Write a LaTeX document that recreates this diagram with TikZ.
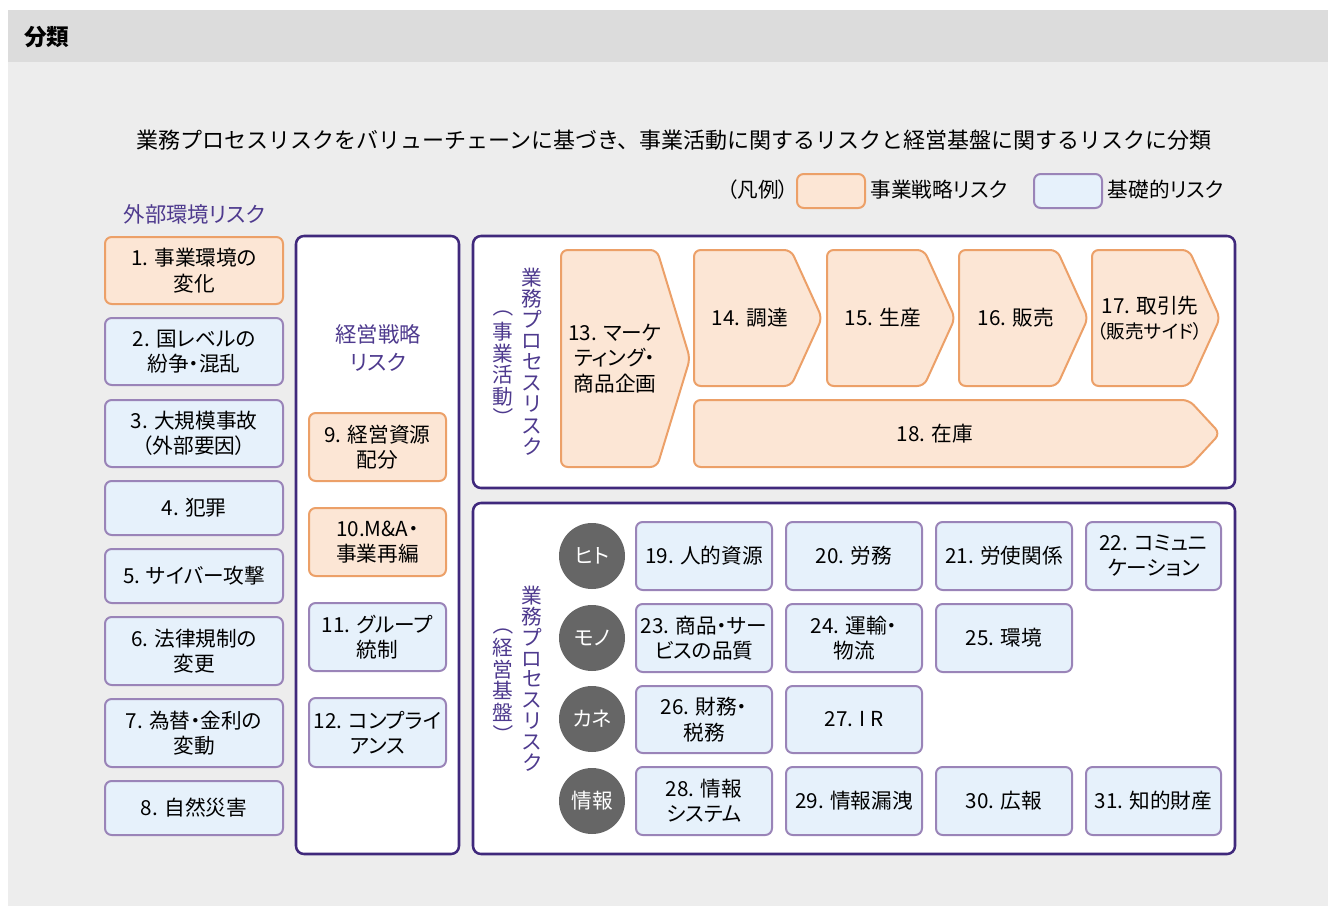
\documentclass[tikz,border=0pt]{standalone}
\usepackage{fontspec}
\setmainfont{Noto Sans CJK JP}[RawFeature=+palt]
\newfontfamily\plainjp{Noto Sans CJK JP}
\definecolor{ob}{HTML}{ECA068}
\definecolor{of}{HTML}{FCE6D5}
\definecolor{bb}{HTML}{9A84B8}
\definecolor{bf}{HTML}{E6F1FB}
\definecolor{dp}{HTML}{40297C}
\definecolor{pt}{HTML}{4E3A8E}
\definecolor{cg}{HTML}{666666}
\definecolor{hdr}{HTML}{DCDCDC}
\definecolor{bg}{HTML}{EDEDED}
\newcommand\fs{\fontsize{15.5pt}{19pt}\selectfont}
\newcommand\bx[7]{\node[#2, minimum width={(#5-#3)*0.75pt}, minimum height={(#6-#4)*0.75pt}] (#1) at ({(#3+#5)/2},{(#4+#6)/2}) {#7};}
\newcommand\chev[8]{%
 \draw[chevst] (#2,#3) -- (#4-#6,#3) -- (#4,{(#3+#5)/2}) -- (#4-#6,#5) -- (#2,#5) -- cycle;
 \node[base] (#1) at (#7,{(#3+#5)/2}) {#8};}
\tikzset{
 base/.style={font=\fs, align=center, text=black, inner sep=0pt},
 orbox/.style={base, draw=ob, fill=of, line width=1.5pt, rounded corners=5pt},
 blbox/.style={base, draw=bb, fill=bf, line width=1.5pt, rounded corners=5pt},
 cont/.style={draw=dp, fill=white, line width=1.9pt, rounded corners=6pt, inner sep=0pt},
 chevst/.style={draw=ob, fill=of, line width=1.5pt, rounded corners=5pt},
 ptxt/.style={base, text=pt},
 vtxt/.style={font=\fs, text=pt, inner sep=0pt, text height=13.6pt, text depth=1.9pt},
 vpar/.style={font=\fs, text=pt, inner sep=0pt, rotate=-90},
 circ/.style={circle, fill=cg, text=white, minimum size=49.5pt, inner sep=0pt, font=\fs},
}
\begin{document}
\begin{tikzpicture}[x=0.75pt,y=-0.75pt]
\useasboundingbox (0,0) rectangle (1328,906);
\fill[white] (0,0) rectangle (1328,906);
\fill[hdr] (8,10) rectangle (1328,62);
\fill[bg] (8,62) rectangle (1328,906);
\node[anchor=west, inner sep=0pt, font=\fontsize{17pt}{20pt}\selectfont\bfseries] (title) at (24,37) {分類};
\node[base, font=\plainjp\fontsize{16.5pt}{20pt}\selectfont] (sub) at (674,140) {業務プロセスリスクをバリューチェーンに基づき、事業活動に関するリスクと経営基盤に関するリスクに分類};
% legend
\node[base] (lg) at (758,190) {（凡例）};
\bx{lgo}{orbox}{797}{174}{865}{208}{}
\node[base] (lgot) at (939,190) {事業戦略リスク};
\bx{lgb}{blbox}{1034}{174}{1102}{208}{}
\node[base] (lgbt) at (1166,190) {基礎的リスク};
% external
\node[ptxt, font=\fontsize{16pt}{19pt}\selectfont] (ext) at (194.5,214) {外部環境リスク};
\bx{r1}{orbox}{105}{237}{283}{304}{1. 事業環境の\\変化}
\bx{r2}{blbox}{105}{318}{283}{385}{2. 国レベルの\\紛争・混乱}
\bx{r3}{blbox}{105}{400}{283}{467}{3. 大規模事故\\（外部要因）}
\bx{r4}{blbox}{105}{481}{283}{535}{4. 犯罪}
\bx{r5}{blbox}{105}{549}{283}{603}{5. サイバー攻撃}
\bx{r6}{blbox}{105}{617}{283}{685}{6. 法律規制の\\変更}
\bx{r7}{blbox}{105}{699}{283}{767}{7. 為替・金利の\\変動}
\bx{r8}{blbox}{105}{781}{283}{835}{8. 自然災害}
% strategy
\bx{mid}{cont}{296}{236}{459}{854}{}
\node[ptxt, font=\fontsize{16pt}{21pt}\selectfont] (midt) at (378,348) {経営戦略\\リスク};
\bx{r9}{orbox}{309}{413}{446}{481}{9. 経営資源\\配分}
\bx{r10}{orbox}{309}{508}{446}{576}{10.M\&A・\\事業再編}
\bx{r11}{blbox}{309}{603}{446}{671}{11. グループ\\統制}
\bx{r12}{blbox}{309}{698}{446}{767}{12. コンプライ\\アンス}
% top container
\bx{top}{cont}{473}{236}{1235}{488}{}
\foreach \c [count=\i] in {業,務,プ,ロ,セ,ス,リ,ス,ク}
  \node[vtxt] (ta\i) at (532,{277.5+21.1*(\i-1)}) {\c};
\node[vpar] (tp1) at (503,311) {（};
\foreach \c/\yy [count=\i] in {事/332,業/353.5,活/375,動/396.5}
  \node[vtxt] (tb\i) at (503,\yy) {\c};
\node[vpar] (tp2) at (503,413) {）};
\chev{r13}{561}{250}{690}{467}{33}{615}{13. マーケ\\ティング・\\商品企画}
\chev{r14}{694}{250}{822}{386}{31}{750}{14. 調達}
\chev{r15}{827}{250}{955}{386}{31}{883}{15. 生産}
\chev{r16}{959}{250}{1088}{386}{31}{1016}{16. 販売}
\chev{r17}{1092}{250}{1220}{386}{31}{1150}{17. 取引先\\{\fontsize{14pt}{16pt}\selectfont（販売サイド）}}
\chev{r18}{694}{400}{1220}{467}{31}{935}{18. 在庫}
% bottom container
\bx{bot}{cont}{473}{503}{1235}{854}{}
\foreach \c [count=\i] in {業,務,プ,ロ,セ,ス,リ,ス,ク}
  \node[vtxt] (ba\i) at (532,{595.5+20.9*(\i-1)}) {\c};
\node[vpar] (bp1) at (503,629) {（};
\foreach \c/\yy [count=\i] in {経/648,営/669.5,基/691,盤/712.5}
  \node[vtxt] (bb\i) at (503,\yy) {\c};
\node[vpar] (bp2) at (503,730) {）};
\node[circ] (c1) at (592,556) {ヒト};
\node[circ] (c2) at (592,638) {モノ};
\node[circ] (c3) at (592,719) {カネ};
\node[circ] (c4) at (592,801) {情報};
\bx{r19}{blbox}{636}{522}{772}{590}{19. 人的資源}
\bx{r20}{blbox}{786}{522}{922}{590}{20. 労務}
\bx{r21}{blbox}{936}{522}{1072}{590}{21. 労使関係}
\bx{r22}{blbox}{1086}{522}{1221}{590}{22. コミュニ\\ケーション}
\bx{r23}{blbox}{636}{604}{772}{672}{23. 商品・サー\\ビスの品質}
\bx{r24}{blbox}{786}{604}{922}{672}{24. 運輸・\\物流}
\bx{r25}{blbox}{936}{604}{1072}{672}{25. 環境}
\bx{r26}{blbox}{636}{686}{772}{753}{26. 財務・\\税務}
\bx{r27}{blbox}{786}{686}{922}{753}{27. I R}
\bx{r28}{blbox}{636}{767}{772}{835}{28. 情報\\システム}
\bx{r29}{blbox}{786}{767}{922}{835}{29. 情報漏洩}
\bx{r30}{blbox}{936}{767}{1072}{835}{30. 広報}
\bx{r31}{blbox}{1086}{767}{1221}{835}{31. 知的財産}
\end{tikzpicture}
\end{document}
